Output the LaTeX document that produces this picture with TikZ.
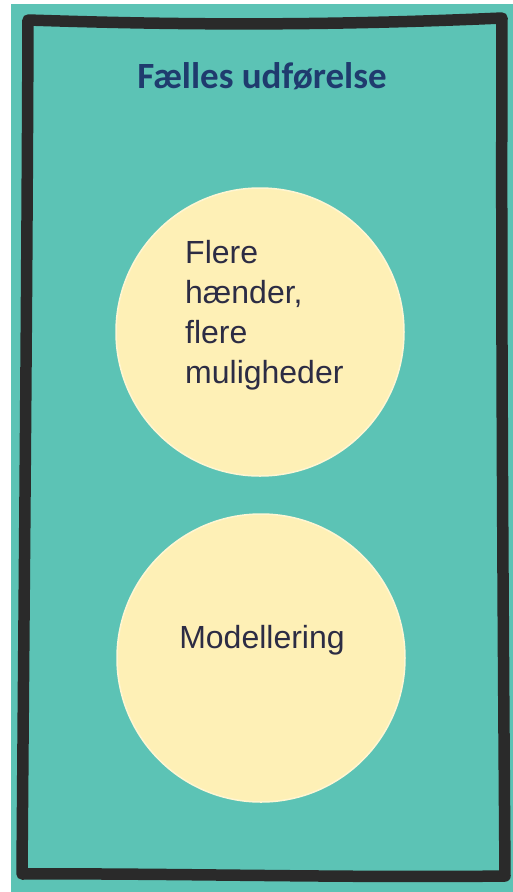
\documentclass[tikz,border=0pt]{standalone}
\usepackage{fontspec}
\setmainfont{Liberation Sans}
\newfontfamily\titlefont{Carlito}
\definecolor{teal0}{HTML}{5CC3B5}
\definecolor{frame0}{HTML}{2A2A2A}
\definecolor{circ0}{HTML}{FEF0B6}
\definecolor{titlec}{HTML}{1F3B6E}
\definecolor{textc}{HTML}{2C2C44}
\begin{document}
\begin{tikzpicture}[x=1pt,y=-1pt,
  bubble/.style={circle,fill=circ0,draw=circ0!60!white,line width=1.5pt,minimum size=288pt,inner sep=0pt},
  frameline/.style={draw=frame0,line width=11.5pt,line cap=round,line join=round},
  bodytext/.style={text=textc,font=\fontsize{32}{40}\selectfont,inner sep=0pt},
  titletext/.style={text=titlec,font=\titlefont\bfseries\fontsize{37}{44}\selectfont,inner sep=0pt}]
\useasboundingbox (0,0) rectangle (513,892);
\fill[white] (0,0) rectangle (513,892);
\fill[teal0] (11,4) rectangle (513,892);
% hand-drawn frame
\draw[frameline] (28,20) .. controls (150,24) and (300,27) .. (502,18)
  .. controls (501,300) and (503,600) .. (505,876)
  .. controls (350,878) and (150,873) .. (22,874)
  .. controls (24,600) and (27,300) .. cycle;
\node[bubble] (c1) at (260,332) {};
\node[bubble] (c2) at (261,658) {};
\node[titletext,anchor=base] (title) at (262,88) {Fælles udførelse};
\node[bodytext,anchor=base west,align=left] (t1) at (185,383) {Flere\\hænder,\\flere\\muligheder};
\node[bodytext,anchor=base] (t2) at (262,648) {Modellering};
\end{tikzpicture}
\end{document}
